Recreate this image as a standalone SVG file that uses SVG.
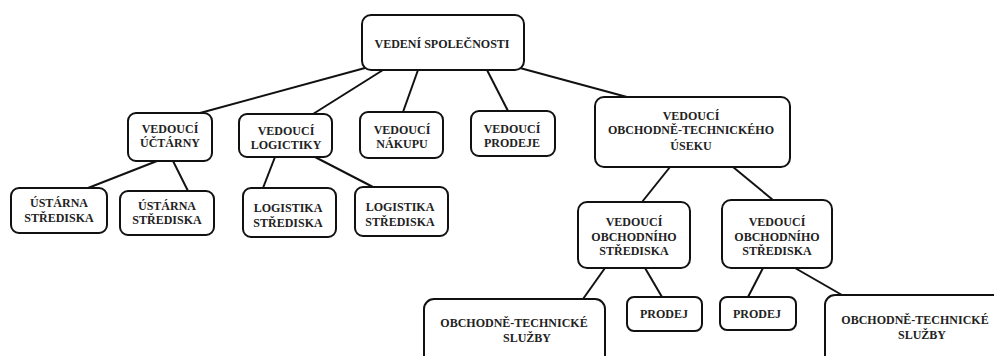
<svg xmlns="http://www.w3.org/2000/svg" width="994" height="356" viewBox="0 0 994 356">
<style>
.box{fill:#fff;stroke:#111;stroke-width:2}
.t{font-family:"Liberation Serif","Times New Roman",serif;font-weight:bold;font-size:12px;fill:#222;text-anchor:middle}
.c line{stroke:#111;stroke-width:2}
</style>
<rect width="994" height="356" fill="#fff"/>
<g class="c" id="connectors">
<line x1="365" y1="68" x2="200" y2="113"/>
<line x1="383" y1="70" x2="313" y2="114"/>
<line x1="418" y1="70" x2="403" y2="112"/>
<line x1="487" y1="70" x2="508" y2="111"/>
<line x1="520" y1="68" x2="627" y2="97"/>
<line x1="157" y1="161" x2="88" y2="188"/>
<line x1="173" y1="161" x2="188" y2="191"/>
<line x1="275" y1="157" x2="263" y2="188"/>
<line x1="315" y1="157" x2="373" y2="187"/>
<line x1="670" y1="167" x2="642" y2="202"/>
<line x1="733" y1="167" x2="773" y2="200"/>
<line x1="605" y1="268" x2="583" y2="299"/>
<line x1="645" y1="268" x2="662" y2="297"/>
<line x1="763" y1="268" x2="748" y2="297"/>
<line x1="795" y1="268" x2="842" y2="295"/>
</g>
<g id="root"><rect class="box" x="362" y="15" width="162" height="55" rx="9"/><text class="t" x="442" y="48">VEDENÍ SPOLEČNOSTI</text></g>
<g id="uctarny"><rect class="box" x="128" y="113" width="84" height="48" rx="8"/><text class="t" x="170" y="133">VEDOUCÍ</text><text class="t" x="170" y="147">ÚČTÁRNY</text></g>
<g id="logictiky"><rect class="box" x="239" y="114" width="93" height="43" rx="8"/><text class="t" x="286" y="135">VEDOUCÍ</text><text class="t" x="286" y="149">LOGICTIKY</text></g>
<g id="nakupu"><rect class="box" x="360" y="112" width="83" height="46" rx="8"/><text class="t" x="402" y="134">VEDOUCÍ</text><text class="t" x="402" y="148">NÁKUPU</text></g>
<g id="prodeje"><rect class="box" x="471" y="111" width="84" height="45" rx="8"/><text class="t" x="512" y="133">VEDOUCÍ</text><text class="t" x="512" y="147">PRODEJE</text></g>
<g id="obch-tech-useku"><rect class="box" x="595" y="97" width="195" height="70" rx="9"/><text class="t" x="691" y="120">VEDOUCÍ</text><text class="t" x="691" y="134">OBCHODNĚ-TECHNICKÉHO</text><text class="t" x="691" y="150">ÚSEKU</text></g>
<g id="ustarna1"><rect class="box" x="11" y="188" width="96" height="45" rx="8"/><text class="t" x="59" y="207">ÚSTÁRNA</text><text class="t" x="59" y="222">STŘEDISKA</text></g>
<g id="ustarna2"><rect class="box" x="120" y="191" width="94" height="44" rx="8"/><text class="t" x="167" y="210">ÚSTÁRNA</text><text class="t" x="167" y="224">STŘEDISKA</text></g>
<g id="logistika1"><rect class="box" x="243" y="188" width="93" height="49" rx="8"/><text class="t" x="288" y="212">LOGISTIKA</text><text class="t" x="288" y="227">STŘEDISKA</text></g>
<g id="logistika2"><rect class="box" x="355" y="187" width="93" height="49" rx="8"/><text class="t" x="400" y="211">LOGISTIKA</text><text class="t" x="400" y="226">STŘEDISKA</text></g>
<g id="obch-strediska1"><rect class="box" x="578" y="202" width="112" height="66" rx="9"/><text class="t" x="634" y="226">VEDOUCÍ</text><text class="t" x="634" y="241">OBCHODNÍHO</text><text class="t" x="634" y="255">STŘEDISKA</text></g>
<g id="obch-strediska2"><rect class="box" x="722" y="200" width="110" height="68" rx="9"/><text class="t" x="777" y="226">VEDOUCÍ</text><text class="t" x="777" y="241">OBCHODNÍHO</text><text class="t" x="777" y="255">STŘEDISKA</text></g>
<g id="ots1"><rect class="box" x="424" y="299" width="181" height="80" rx="10"/><text class="t" x="514" y="327">OBCHODNĚ-TECHNICKÉ</text><text class="t" x="527" y="342">SLUŽBY</text></g>
<g id="prodej1"><rect class="box" x="627" y="297" width="75" height="34" rx="7"/><text class="t" x="664" y="318">PRODEJ</text></g>
<g id="prodej2"><rect class="box" x="720" y="297" width="76" height="33" rx="7"/><text class="t" x="757" y="318">PRODEJ</text></g>
<g id="ots2"><rect class="box" x="825" y="295" width="180" height="80" rx="10"/><text class="t" x="915" y="324">OBCHODNĚ-TECHNICKÉ</text><text class="t" x="922" y="339">SLUŽBY</text></g>
</svg>
